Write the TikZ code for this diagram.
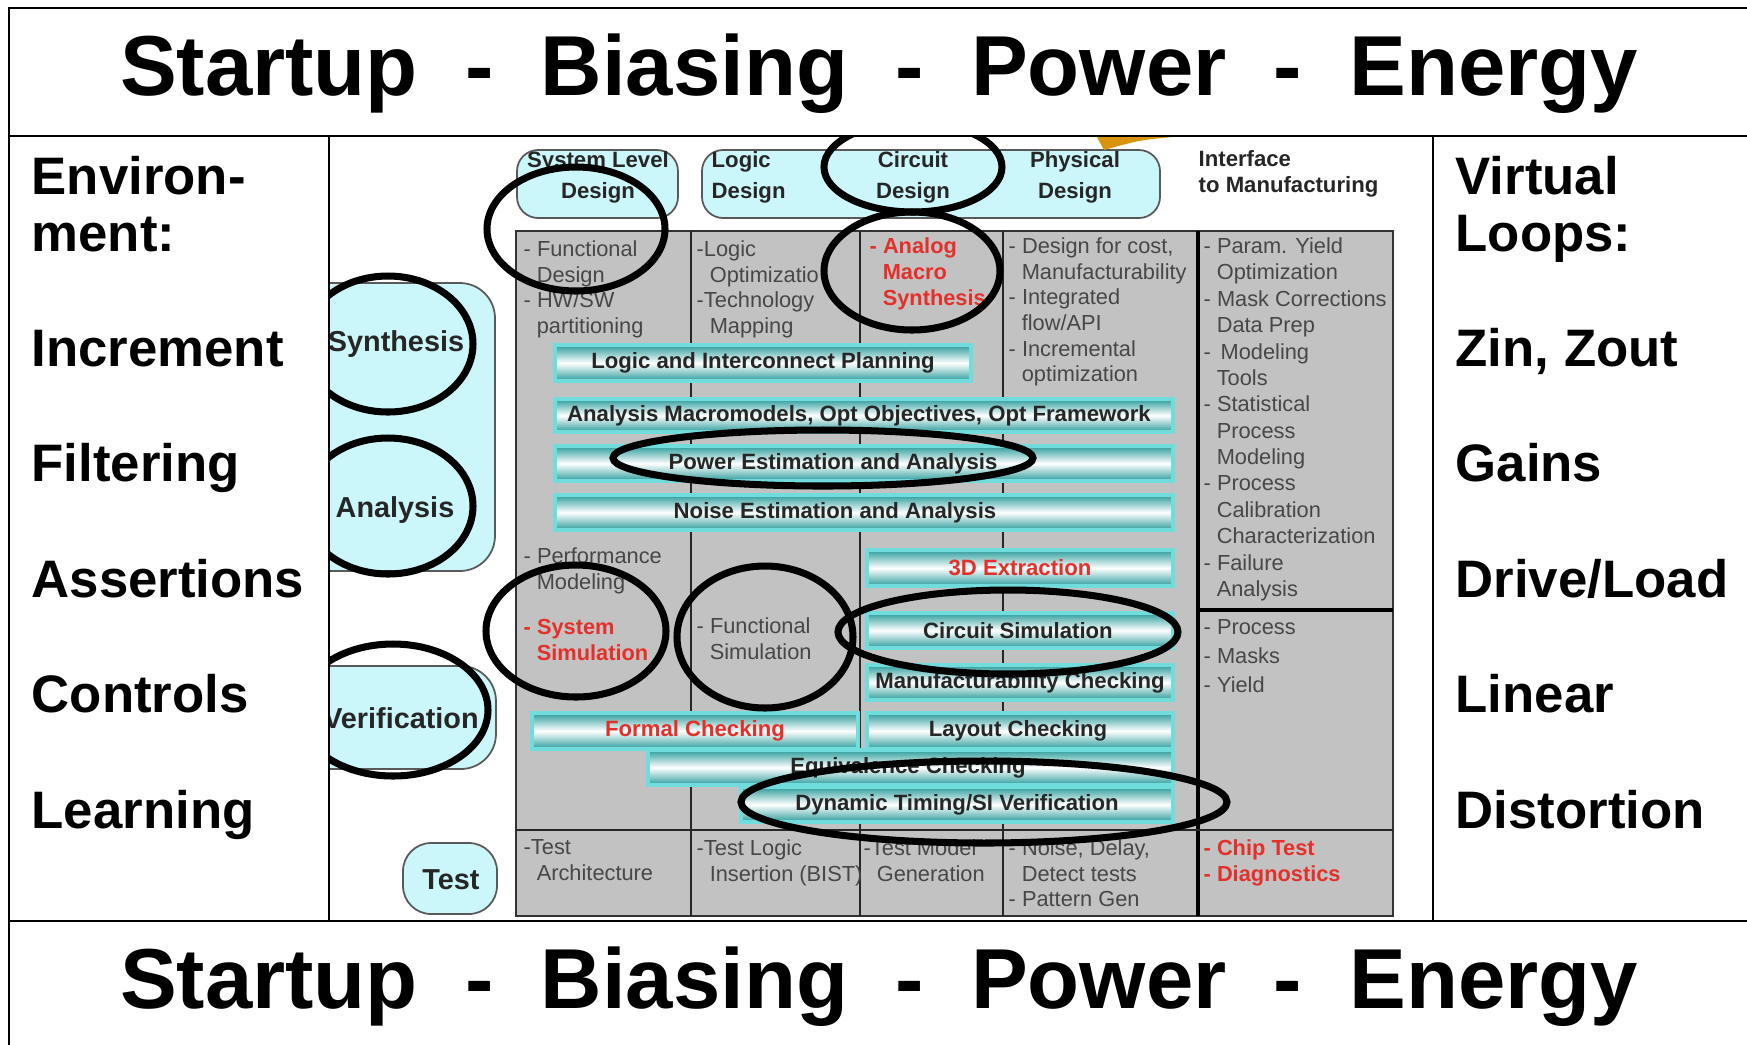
\documentclass[tikz,border=0pt]{standalone}
\usepackage{fontspec}
\setmainfont{Liberation Sans}

\definecolor{tablegray}{HTML}{C2C2C2}
\definecolor{boxcyan}{HTML}{CCF7FA}
\definecolor{barteal}{HTML}{2C9C9C}
\definecolor{barrim}{HTML}{70DCDC}
\definecolor{hotred}{HTML}{E3302A}
\definecolor{orangeblob}{HTML}{D9930F}

\newcommand{\tabind}{\hspace*{0.6em}}
% strip: name, x1, y1, x2, y2, text x, text
\newcommand{\stripnode}[7]{%
  \path[stripbar] (#2,#3) rectangle (#4,#5);
  \node[bartext] (#1) at (#6,{(#3+#5)/2}) {#7};}

\begin{document}
\begin{tikzpicture}[x=0.01cm, y=-0.01cm,
    sidetext/.style={anchor=base west, inner sep=0pt, font=\fontsize{15}{18}\selectfont\bfseries},
    titletext/.style={anchor=base, inner sep=0pt, font=\fontsize{24.2}{28}\selectfont\bfseries},
    tabletext/.style={anchor=north west, inner sep=0pt, align=left, text=black!72, font=\fontsize{6.2}{7.3}\selectfont},
    redtext/.style={tabletext, text=hotred, font=\fontsize{6.2}{7.4}\selectfont\bfseries},
    headtext/.style={inner sep=0pt, align=center, text=black!85, font=\fontsize{6.3}{8.8}\selectfont\bfseries},
    bartext/.style={inner sep=0pt, text=black!85, font=\fontsize{6.3}{7}\selectfont\bfseries},
    boxtext/.style={inner sep=0pt, text=black!85, font=\fontsize{8.2}{10}\selectfont\bfseries},
    stripbar/.style={draw=barrim, line width=1pt, top color=barteal, bottom color=barteal, middle color=white},
    cyanbox/.style={fill=boxcyan, draw=gray!70!black, line width=0.5pt, rounded corners=6pt},
    ring/.style={draw=black, line width=2pt},
    framebox/.style={fill=white, draw=black, line width=0.8pt}]
    \useasboundingbox (0,0) rectangle (1747,1044);
    \clip (0,0) rectangle (1747,1044);

    \coordinate (TableNW) at (516,231);
    \coordinate (TableSE) at (1393,916);
    \fill [tablegray] (TableNW) rectangle (TableSE);% Gray table
    \draw [gray!40!black, line width=0.4pt] (TableNW) rectangle (TableSE);
    \foreach \xc in {691,860,1003}
        \draw [gray!30!black, line width=0.5pt] (\xc,231) -- (\xc,916);
    \draw [black, line width=0.9pt] (1198,231) -- (1198,916);
    \draw [black, line width=0.9pt] (1198,610) -- (1393,610);
    \draw [gray!30!black, line width=0.8pt] (516,830) -- (1393,830);

    % cyan boxes
    \draw [cyanbox] (517,150) rectangle (678,218);
    \draw [cyanbox] (702,150) rectangle (1160,218);
    \draw [cyanbox, rounded corners=10pt] (290,283) rectangle (495,571);
    \draw [cyanbox, rounded corners=10pt] (290,666) rectangle (496,769);
    \draw [cyanbox, rounded corners=8pt] (403,843) rectangle (497,914);

    \node [headtext] (SysLevel) at (598,177) {System Level\\Design};
    \node [headtext, align=left, anchor=west] (LogicHead) at (711,177) {Logic\\Design};
    \node [headtext] (CircuitHead) at (913,177) {Circuit\\Design};
    \node [headtext] (PhysicalHead) at (1075,177) {Physical\\Design};
    \node [headtext, align=left, anchor=west, font=\fontsize{6.3}{7.4}\selectfont\bfseries] (InterfaceHead) at (1198,174) {Interface\\to Manufacturing};

    \node [boxtext] (Synthesis) at (396,344) {Synthesis};
    \node [boxtext] (Analysis) at (395,510) {Analysis};
    \node [boxtext] (Verification) at (401,718) {Verification};
    \node [boxtext] (Test) at (451,880) {Test};

    % column texts
    \node [tabletext] (ColOne) at (523,240) {- Functional\\\tabind Design\\- HW/SW\\\tabind partitioning};
    \node [tabletext] (ColTwo) at (696,240) {-Logic\\\tabind Optimizatio\\-Technology\\\tabind Mapping};
    \node [redtext] (ColThree) at (869,237) {- Analog\\\tabind Macro\\\tabind Synthesis};
    \node [tabletext, font=\fontsize{6.2}{7.3}\selectfont] (ColFour) at (1008,237) {- Design for cost,\\\tabind Manufacturability\\- Integrated\\\tabind flow/API\\- Incremental\\\tabind optimization};
    \node [tabletext, font=\fontsize{6.2}{7.5}\selectfont] (ColFive) at (1203,237) {- Param. Yield\\\tabind Optimization\\- Mask Corrections\\\tabind Data Prep\\- \,Modeling\\\tabind Tools\\- Statistical\\\tabind Process\\\tabind Modeling\\- Process\\\tabind Calibration\\\tabind Characterization\\- Failure\\\tabind Analysis};
    \node [tabletext, font=\fontsize{6.2}{8.2}\selectfont] (ColFiveLow) at (1203,619) {- Process\\- Masks\\- Yield};
    \node [tabletext] (PerfModel) at (523,547) {- Performance\\\tabind Modeling};
    \node [redtext] (SysSim) at (523,619) {- System\\\tabind Simulation};
    \node [tabletext] (FuncSim) at (696,617) {- Functional\\\tabind Simulation};

    \node [tabletext] (TestArch) at (523,839) {-Test\\\tabind Architecture};
    \node [tabletext] (TestLogic) at (696,839) {-Test Logic\\\tabind Insertion (BIST)};
    \node [tabletext] (TestModel) at (863,839) {-Test Model\\\tabind Generation};
    \node [tabletext] (NoiseDelay) at (1008,839) {- Noise, Delay,\\\tabind Detect tests\\- Pattern Gen};
    \node [redtext] (ChipTest) at (1203,839) {- Chip Test\\- Diagnostics};

    % bars
    \stripnode{LogicPlan}{555}{345}{971}{381}{763}{Logic and Interconnect Planning}
    \stripnode{MacroModels}{555}{399}{1173}{432}{859}{Analysis Macromodels, Opt Objectives, Opt Framework}
    \stripnode{PowerEst}{555}{446}{1173}{481}{833}{Power Estimation and Analysis}
    \stripnode{NoiseEst}{555}{495}{1173}{530}{835}{Noise Estimation and Analysis}
    \stripnode{Extraction}{867}{550}{1173}{586}{1020}{\textcolor{hotred}{3D Extraction}}
    \stripnode{CircuitSim}{867}{613}{1173}{648}{1018}{Circuit Simulation}
    \stripnode{ManufCheck}{867}{665}{1173}{700}{1020}{Manufacturability Checking}
    \stripnode{FormalCheck}{532}{713}{858}{749}{695}{\textcolor{hotred}{Formal Checking}}
    \stripnode{LayoutCheck}{867}{713}{1173}{749}{1018}{Layout Checking}
    \stripnode{EquivCheck}{648}{750}{1173}{785}{908}{Equivalence Checking}
    \stripnode{DynTiming}{741}{787}{1173}{822}{957}{Dynamic Timing/SI Verification}

    \fill [orangeblob] (1097,137) -- (1173,137) .. controls (1140,140) .. (1104,150) -- cycle;

    % rings
    \draw [ring] (576,229) ellipse [x radius=89, y radius=62];
    \draw [ring] (913,167) ellipse [x radius=89, y radius=45];
    \draw [ring] (912,271) ellipse [x radius=88, y radius=59];
    \draw [ring] (388,344) ellipse [x radius=85, y radius=68];
    \draw [ring] (388,506) ellipse [x radius=85, y radius=68];
    \draw [ring] (393,710) ellipse [x radius=95, y radius=66];
    \draw [ring] (823,458) ellipse [x radius=210, y radius=28];
    \draw [ring] (576,631) ellipse [x radius=90, y radius=66];
    \draw [ring] (765,637) ellipse [x radius=88, y radius=71];
    \draw [ring] (1008,632) ellipse [x radius=170, y radius=42];
    \draw [ring] (984,802) ellipse [x radius=243, y radius=41];

    % frame
    \draw [framebox] (9,8) rectangle (1760,136);
    \draw [framebox] (9,136) rectangle (329,921);
    \draw [framebox] (1433,136) rectangle (1760,921);
    \draw [framebox] (9,921) rectangle (1760,1060);

    \node [titletext] (TopTitle) at (879,95) {Startup~~-~~Biasing~~-~~Power~~-~~Energy};
    \node [titletext] (BottomTitle) at (879,1008) {Startup~~-~~Biasing~~-~~Power~~-~~Energy};

    \node [sidetext] (EnvOne) at (31,194) {Environ-};
    \node [sidetext] (EnvTwo) at (31,251) {ment:};
    \node [sidetext] (Increment) at (31,366) {Increment};
    \node [sidetext] (Filtering) at (31,481) {Filtering};
    \node [sidetext] (Assertions) at (31,597) {Assertions};
    \node [sidetext] (Controls) at (31,712) {Controls};
    \node [sidetext] (Learning) at (31,828) {Learning};

    \node [sidetext] (VirtOne) at (1455,194) {Virtual};
    \node [sidetext] (VirtTwo) at (1455,251) {Loops:};
    \node [sidetext] (ZinZout) at (1455,366) {Zin, Zout};
    \node [sidetext] (Gains) at (1455,481) {Gains};
    \node [sidetext] (DriveLoad) at (1455,597) {Drive/Load};
    \node [sidetext] (Linear) at (1455,712) {Linear};
    \node [sidetext] (Distortion) at (1455,828) {Distortion};
\end{tikzpicture}
\end{document}
